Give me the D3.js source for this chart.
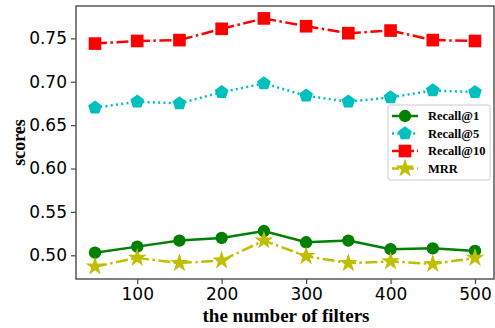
<!DOCTYPE html>
<html>
<head>
<meta charset="utf-8">
<script src="https://cdn.jsdelivr.net/npm/d3@7"></script>
<style>
  body { margin: 0; background: #fff; }
  .tick text { font-family: "DejaVu Sans", sans-serif; font-size: 17px; fill: #000; }
  .lbl { font-family: "Liberation Serif", "Times New Roman", serif; font-weight: bold; }
</style>
</head>
<body>
<div id="chart"></div>
<script>
// Data
const filters = [50, 100, 150, 200, 250, 300, 350, 400, 450, 500];
const recall1 = [0.503, 0.510, 0.517, 0.520, 0.528, 0.515, 0.517, 0.507, 0.508, 0.505];
const recall5 = [0.670, 0.677, 0.675, 0.688, 0.698, 0.684, 0.677, 0.682, 0.690, 0.688];
const recall10 = [0.744, 0.747, 0.748, 0.761, 0.773, 0.764, 0.756, 0.759, 0.748, 0.747];
const mrr = [0.487, 0.497, 0.491, 0.494, 0.517, 0.499, 0.491, 0.493, 0.490, 0.497];
const xTicks = [100, 200, 300, 400, 500];
const yTicks = [0.50, 0.55, 0.60, 0.65, 0.70, 0.75];

const series = [
  { name: 'Recall@1', values: recall1, color: '#008000', dash: null, marker: 'circle' },
  { name: 'Recall@5', values: recall5, color: '#00bfbf', dash: '2,3.3', marker: 'pentagon' },
  { name: 'Recall@10', values: recall10, color: '#ff0000', dash: '12,3.5,2.5,3.5', marker: 'square' },
  { name: 'MRR', values: mrr, color: '#bfbf00', dash: '12,3.5,2.5,3.5', marker: 'star' }
];

const width = 495, height = 328;
const margin = { left: 76, right: 1, top: 6, bottom: 49 };

const svg = d3.select('#chart')
  .append('svg')
  .attr('width', width)
  .attr('height', height)
  .style('display', 'block');

const xScale = d3.scaleLinear()
  .domain([27.5, 522.5])
  .range([margin.left, width - margin.right]);

const yScale = d3.scaleLinear()
  .domain([0.4727, 0.7873])
  .range([height - margin.bottom, margin.top]);

// axes
const xAxis = svg.append('g')
  .attr('transform', `translate(0,${height - margin.bottom})`)
  .call(d3.axisBottom(xScale).tickValues(xTicks).tickSize(5).tickPadding(4));

const yAxis = svg.append('g')
  .attr('transform', `translate(${margin.left},0)`)
  .call(d3.axisLeft(yScale).tickValues(yTicks).tickFormat(d3.format('.2f')).tickSize(5).tickPadding(4));

[xAxis, yAxis].forEach(g => {
  g.select('.domain').remove();
  g.selectAll('.tick line').attr('stroke', '#444').attr('stroke-width', 1.2);
});

// frame
svg.append('rect')
  .attr('x', margin.left)
  .attr('y', margin.top)
  .attr('width', width - margin.right - margin.left)
  .attr('height', height - margin.bottom - margin.top)
  .attr('fill', 'none')
  .attr('stroke', '#555')
  .attr('stroke-width', 1.5);

// marker shapes
const symbols = {
  circle: d3.symbol().type(d3.symbolCircle).size(120),
  square: d3.symbol().type(d3.symbolSquare).size(160),
  star: d3.symbol().type(d3.symbolStar).size(110)
};
function pentagon(r) {
  const pts = d3.range(5).map(i => {
    const a = -Math.PI / 2 + i * 2 * Math.PI / 5;
    return [r * Math.cos(a), r * Math.sin(a)];
  });
  return 'M' + pts.map(p => p.join(',')).join('L') + 'Z';
}
function markerPath(m) {
  return m === 'pentagon' ? pentagon(7.2) : symbols[m]();
}

const line = d3.line()
  .x((d, i) => xScale(filters[i]))
  .y(d => yScale(d));

series.forEach(s => {
  svg.append('path')
    .datum(s.values)
    .attr('d', line)
    .attr('fill', 'none')
    .attr('stroke', s.color)
    .attr('stroke-width', 2.5)
    .attr('stroke-dasharray', s.dash);

  svg.selectAll(null)
    .data(s.values)
    .enter()
    .append('path')
    .attr('d', markerPath(s.marker))
    .attr('transform', (d, i) => `translate(${xScale(filters[i])},${yScale(d)})`)
    .attr('fill', s.color);
});

// axis labels
svg.append('text')
  .attr('class', 'lbl')
  .attr('x', 286)
  .attr('y', 322)
  .attr('text-anchor', 'middle')
  .attr('font-size', 19)
  .text('the number of filters');

svg.append('text')
  .attr('class', 'lbl')
  .attr('transform', `translate(25,${(margin.top + height - margin.bottom) / 2}) rotate(-90)`)
  .attr('text-anchor', 'middle')
  .attr('font-size', 18)
  .text('scores');

// legend
const legend = svg.append('g').attr('transform', 'translate(388,105)');
legend.append('rect')
  .attr('width', 102)
  .attr('height', 75)
  .attr('rx', 2)
  .attr('fill', '#fff')
  .attr('fill-opacity', 0.8)
  .attr('stroke', '#ccc');

series.forEach((s, i) => {
  const y = 11 + i * 17.5;
  legend.append('line')
    .attr('x1', 4).attr('x2', 30)
    .attr('y1', y).attr('y2', y)
    .attr('stroke', s.color)
    .attr('stroke-width', 2.5)
    .attr('stroke-dasharray', s.dash ? (s.marker === 'pentagon' ? '2,3.3' : '7,3,2,3') : null);
  legend.append('path')
    .attr('d', markerPath(s.marker))
    .attr('transform', `translate(17,${y})`)
    .attr('fill', s.color);
  legend.append('text')
    .attr('class', 'lbl')
    .attr('x', 40)
    .attr('y', y + 4)
    .attr('font-size', 12.5)
    .text(s.name);
});
</script>
</body>
</html>
